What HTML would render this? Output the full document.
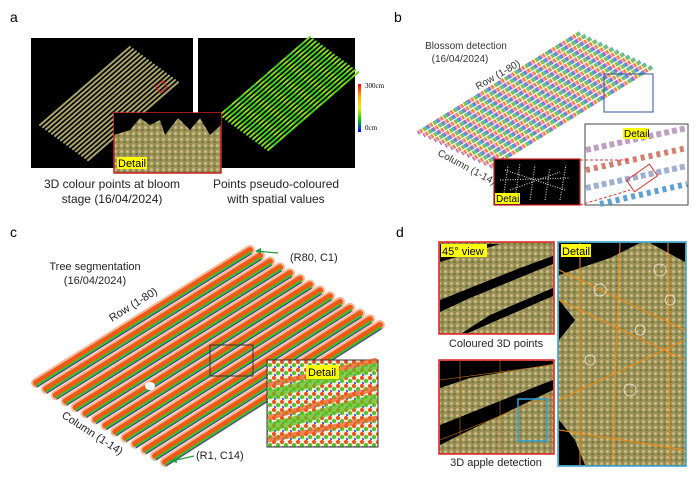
<!DOCTYPE html>
<html><head><meta charset="utf-8"><style>
html,body{margin:0;padding:0;background:#fff;}
svg{display:block;font-family:"Liberation Sans",sans-serif;}
</style></head><body>
<svg width="699" height="478" viewBox="0 0 699 478" xmlns="http://www.w3.org/2000/svg">
<defs>
<pattern id="leaf" width="6" height="6" patternUnits="userSpaceOnUse">
<rect width="6" height="6" fill="#9a9458"/><circle cx="1.5" cy="1.5" r="1.3" fill="#d0c890"/><circle cx="4.5" cy="4" r="1.1" fill="#6f6a3a"/><circle cx="4.5" cy="1" r="0.6" fill="#c06050"/>
</pattern>
<pattern id="heat" width="8" height="8" patternUnits="userSpaceOnUse">
<rect width="8" height="8" fill="#f0f0e0"/><circle cx="2" cy="2" r="2" fill="#e85020"/><circle cx="6" cy="5" r="2" fill="#50c020"/><circle cx="3" cy="7" r="1" fill="#2040c0"/>
</pattern>
<linearGradient id="cb" x1="0" y1="0" x2="0" y2="1"><stop offset="0" stop-color="#f00"/><stop offset=".25" stop-color="#fa0"/><stop offset=".5" stop-color="#ee0"/><stop offset=".75" stop-color="#0c0"/><stop offset="1" stop-color="#00f"/></linearGradient>
<path id="rowA" d="M40 125 L130 47"/>
<path id="rowB" d="M418 133 L580 33"/>
<path id="rowsC" d="M36 383L250 250M45.9 389.1L260 255.8M55.8 395.2L270 261.5M65.8 401.2L280 267.3M75.7 407.3L290 273.1M85.6 413.4L300 278.8M95.5 419.5L310 284.6M105.5 425.5L320 290.4M115.4 431.6L330 296.2M125.3 437.7L340 301.9M135.2 443.8L350 307.7M145.2 449.8L360 313.5M155.1 455.9L370 319.2M165 462L380 325"/>
<g id="rowsA">
<use href="#rowA"/><use href="#rowA" transform="translate(3,2.2)"/><use href="#rowA" transform="translate(6,4.4)"/><use href="#rowA" transform="translate(9,6.6)"/><use href="#rowA" transform="translate(12,8.8)"/><use href="#rowA" transform="translate(15,11)"/><use href="#rowA" transform="translate(18,13.2)"/><use href="#rowA" transform="translate(21,15.4)"/><use href="#rowA" transform="translate(24,17.6)"/><use href="#rowA" transform="translate(27,19.8)"/><use href="#rowA" transform="translate(30,22)"/><use href="#rowA" transform="translate(33,24.2)"/><use href="#rowA" transform="translate(36,26.4)"/><use href="#rowA" transform="translate(39,28.6)"/><use href="#rowA" transform="translate(42,30.8)"/><use href="#rowA" transform="translate(45,33)"/><use href="#rowA" transform="translate(48,35.2)"/>
</g>
</defs>

<text x="10" y="22" font-size="14">a</text>
<text x="394" y="22" font-size="14">b</text>
<text x="10" y="237" font-size="14">c</text>
<text x="396" y="237" font-size="14">d</text>

<!-- panel a -->
<rect x="31" y="38" width="162" height="130" fill="#000"/>
<rect x="198" y="38" width="157" height="130" fill="#000"/>
<g stroke="#a8a46a" stroke-width="2" stroke-linecap="round"><use href="#rowsA"/></g>
<g transform="translate(180,-10)" stroke-linecap="round">
<g stroke="#40d020" stroke-width="2"><use href="#rowsA"/></g>
<g stroke="#e0e020" stroke-width="0.8" stroke-dasharray="6 10"><use href="#rowsA" transform="translate(0,-0.5)"/></g>
</g>
<rect x="157" y="83" width="9" height="8" fill="none" stroke="#e02020" stroke-width="1" transform="rotate(-35 161 87)"/>
<rect x="114" y="113" width="107" height="60" fill="url(#leaf)" stroke="#d02020" stroke-width="1.5"/>
<path d="M114 135 L130 130 L140 118 L150 125 L160 120 L165 135 L178 118 L190 130 L200 118 L210 135 L221 125 L221 113 L114 113Z" fill="#000"/>
<rect x="117" y="157" width="30" height="12" fill="#ffff00"/>
<text x="118" y="167" font-size="11">Detail</text>
<rect x="358" y="84" width="3" height="48" fill="url(#cb)"/>
<text x="365" y="88" font-size="7" font-family="Liberation Serif,serif">300cm</text>
<text x="365" y="130" font-size="7" font-family="Liberation Serif,serif">0cm</text>
<text x="112" y="188" font-size="12" text-anchor="middle" fill="#222">3D colour points at bloom</text>
<text x="112" y="203" font-size="12" text-anchor="middle" fill="#222">stage (16/04/2024)</text>
<text x="276" y="188" font-size="12" text-anchor="middle" fill="#222">Points pseudo-coloured</text>
<text x="276" y="203" font-size="12" text-anchor="middle" fill="#222">with spatial values</text>

<!-- panel b -->
<text x="466" y="49" font-size="10" text-anchor="middle" fill="#333">Blossom detection</text>
<text x="460" y="62" font-size="10" text-anchor="middle" fill="#333">(16/04/2024)</text>
<text x="0" y="0" font-size="10" fill="#333" transform="translate(478,90) rotate(-30)">Row (1-80)</text>
<text x="0" y="0" font-size="10" fill="#333" transform="translate(437,155) rotate(28)">Column (1-14)</text>
<g stroke-width="4" fill="none">
<g id="bcol">
<use href="#rowB" stroke="#f0a0c0" stroke-dasharray="3 9"/>
<use href="#rowB" stroke="#40b0e0" stroke-dasharray="3 9" stroke-dashoffset="3"/>
<use href="#rowB" stroke="#80c050" stroke-dasharray="3 9" stroke-dashoffset="6"/>
<use href="#rowB" stroke="#f08030" stroke-dasharray="2 10" stroke-dashoffset="9"/>
<use href="#rowB" stroke="#9070c0" stroke-dasharray="2 10" stroke-dashoffset="1"/>
</g>
<use href="#bcol" transform="translate(5.5,2.6)"/><use href="#bcol" transform="translate(11,5.2)"/><use href="#bcol" transform="translate(16.5,7.8)"/><use href="#bcol" transform="translate(22,10.4)"/><use href="#bcol" transform="translate(27.5,13)"/><use href="#bcol" transform="translate(33,15.6)"/><use href="#bcol" transform="translate(38.5,18.2)"/><use href="#bcol" transform="translate(44,20.8)"/><use href="#bcol" transform="translate(49.5,23.4)"/><use href="#bcol" transform="translate(55,26)"/><use href="#bcol" transform="translate(60.5,28.6)"/><use href="#bcol" transform="translate(66,31.2)"/><use href="#bcol" transform="translate(72,34)"/>
</g>
<rect x="604" y="74" width="49" height="38" fill="none" stroke="#3050a0" stroke-width="1"/>
<rect x="585" y="124" width="103" height="81" fill="#fff" stroke="#444" stroke-width="1"/>
<g stroke-width="6" fill="none">
<path d="M586 150 L687 128" stroke="#c0a0c0" stroke-dasharray="5 3"/>
<path d="M586 170 L687 148" stroke="#d08070" stroke-dasharray="4 4"/>
<path d="M586 188 L687 166" stroke="#a0b0d0" stroke-dasharray="5 3"/>
<path d="M600 204 L687 184" stroke="#60a0d0" stroke-dasharray="4 4"/>
</g>
<rect x="628" y="171" width="28" height="14" fill="none" stroke="#e03030" stroke-width="1" transform="rotate(-35 642 178)"/>
<path d="M580 160 L630 160 M580 205 L630 190" stroke="#e03030" stroke-dasharray="3 2" stroke-width="1"/>
<rect x="623" y="128" width="26" height="11" fill="#ffff00"/>
<text x="624" y="137" font-size="10">Detail</text>
<rect x="494" y="159" width="86" height="46" fill="#000" stroke="#d02020" stroke-width="1.2"/>
<g stroke="#ccc" stroke-width="1.2" stroke-dasharray="1 1.5"><path d="M503 200 L508 165 M515 200 L520 163 M530 200 L535 165 M545 200 L550 168 M560 200 L566 165 M500 180 L570 178 M505 170 L565 190 M510 190 L560 172"/></g>
<rect x="495" y="193" width="25" height="11" fill="#ffff00"/>
<text x="496" y="202" font-size="10">Detail</text>

<!-- panel c -->
<text x="95" y="270" font-size="11" text-anchor="middle" fill="#222">Tree segmentation</text>
<text x="95" y="284" font-size="11" text-anchor="middle" fill="#222">(16/04/2024)</text>
<text x="0" y="0" font-size="11" fill="#222" transform="translate(112,322) rotate(-32)">Row (1-80)</text>
<text x="0" y="0" font-size="11" fill="#222" transform="translate(61,417) rotate(33)">Column (1-14)</text>
<g fill="none" stroke-linecap="round">
<use href="#rowsC" stroke="#f8b898" stroke-width="10"/>
<use href="#rowsC" stroke="#f05a18" stroke-width="6"/>
<use href="#rowsC" stroke="#40c020" stroke-width="2.2" transform="translate(0.8,2.4)"/>
<use href="#rowsC" stroke="#2040b0" stroke-width="1" transform="translate(1.2,3.8)"/>
</g>
<ellipse cx="150" cy="386" rx="5" ry="4" fill="#fff"/>
<text x="290" y="261" font-size="11" fill="#222">(R80, C1)</text>
<path d="M278 253 L256 251" stroke="#20a040" stroke-width="1.2"/><path d="M255 251 L261 248 L261 254Z" fill="#20a040"/>
<text x="196" y="459" font-size="11" fill="#222">(R1, C14)</text>
<path d="M194 456 L172 461" stroke="#20a040" stroke-width="1.2"/><path d="M170 461 L176 457 L177 463Z" fill="#20a040"/>
<rect x="210" y="345" width="43" height="31" fill="none" stroke="#333" stroke-width="1"/>
<rect x="267" y="360" width="111" height="87" fill="url(#heat)" stroke="#333" stroke-width="1"/>
<g stroke-width="9" opacity=".75"><path d="M268 395 L377 365" stroke="#60c020"/><path d="M268 428 L377 398" stroke="#60c020"/><path d="M268 385 L377 360" stroke="#f06020" stroke-width="5"/><path d="M268 418 L377 388" stroke="#f06020" stroke-width="5"/><path d="M268 440 L377 418" stroke="#f06020" stroke-width="5"/></g>
<rect x="306" y="365" width="33" height="14" fill="#ffff00"/>
<text x="308" y="376" font-size="11">Detail</text>

<!-- panel d -->
<rect x="439" y="242" width="115" height="92" fill="url(#leaf)" stroke="#e02020" stroke-width="1.5"/>
<path d="M440 300 L520 268 L553 256 L553 264 L470 298 L440 312Z M468 333 L553 296 L553 288 L490 315 L462 333Z M440 244 L500 244 L440 262Z" fill="#000"/>
<rect x="441" y="244" width="46" height="13" fill="#ffff00"/>
<text x="442" y="255" font-size="11">45° view</text>
<text x="496" y="347" font-size="11" text-anchor="middle" fill="#222">Coloured 3D points</text>
<rect x="439" y="360" width="115" height="94" fill="url(#leaf)" stroke="#e02020" stroke-width="1.5"/>
<path d="M440 425 L540 385 L553 380 L553 390 L470 430 L440 445Z M440 361 L553 361 L553 364 L470 378 L440 388Z" fill="#000"/>
<g stroke="#d07010" stroke-width="0.6" fill="none"><path d="M440 380 L553 365 M440 440 L553 395 M460 361 L460 454 M500 361 L500 454"/></g>
<rect x="518" y="399" width="29" height="42" fill="none" stroke="#2aa0d8" stroke-width="1.5"/>
<text x="496" y="466" font-size="11" text-anchor="middle" fill="#222">3D apple detection</text>
<rect x="558" y="242" width="128" height="224" fill="url(#leaf)" stroke="#2aa0d8" stroke-width="1.5"/>
<path d="M559 243 L640 243 L610 258 L559 275Z M559 300 L575 320 L559 340Z M650 243 L685 243 L685 262Z M559 420 L575 440 L585 465 L559 465Z" fill="#000"/>
<g stroke="#f08a10" stroke-width="1" fill="none"><path d="M559 270 L685 330 M559 300 L685 360 M580 243 L580 465 M620 243 L612 465 M668 243 L670 465 M559 400 L685 340 M559 430 L685 450"/></g>
<g fill="none" stroke="#fff" stroke-width="0.8" opacity=".8"><circle cx="600" cy="290" r="6"/><circle cx="640" cy="330" r="5"/><circle cx="660" cy="270" r="6"/><circle cx="590" cy="360" r="5"/><circle cx="630" cy="390" r="6"/><circle cx="670" cy="300" r="5"/></g>
<rect x="561" y="244" width="30" height="13" fill="#ffff00"/>
<text x="562" y="255" font-size="11">Detail</text>
</svg>
</body></html>
